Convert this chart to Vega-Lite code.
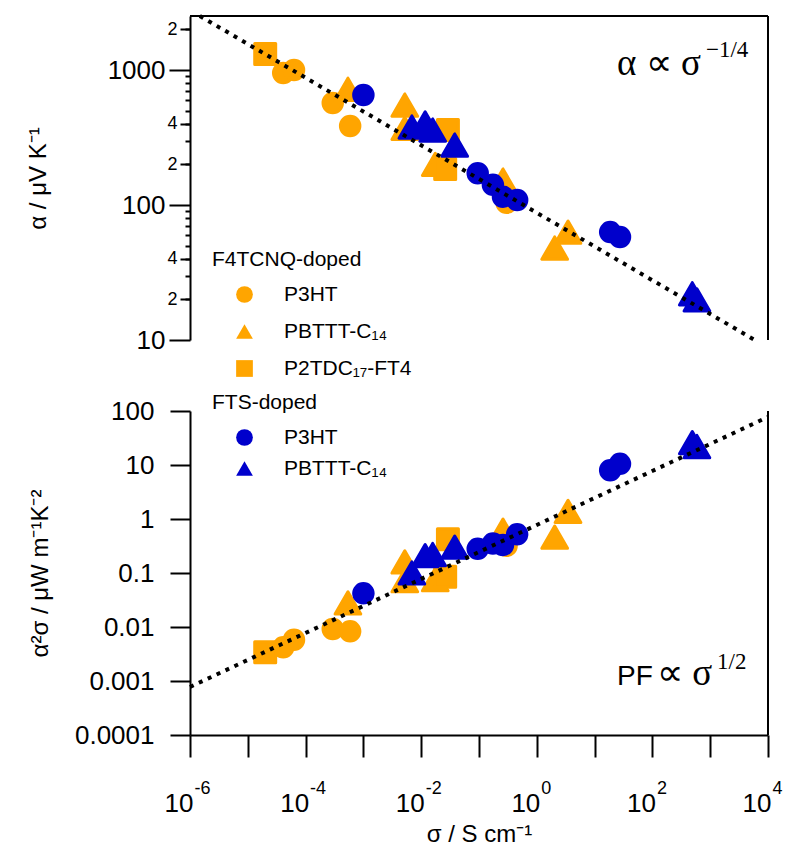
{
  "$schema": "https://vega.github.io/schema/vega-lite/v6.json",
  "width": 578,
  "height": 719,
  "autosize": {"type": "none"},
  "padding": {"left": 190, "top": 16, "right": 20, "bottom": 117},
  "background": "white",
  "config": {
    "view": {"stroke": null},
    "font": "Liberation Sans",
    "axis": {"grid": false, "domainColor": "black", "tickColor": "black", "labelColor": "black", "titleColor": "black", "domainWidth": 2, "tickWidth": 2, "labelFont": "Liberation Sans", "titleFont": "Liberation Sans", "titleFontWeight": "normal"},
    "legend": {"padding": 0}
  },
  "datasets": {
    "pts": [
      {"s": 4.1e-5, "a": 950, "pf": 0.0042, "dop": "F4TCNQ", "poly": "P3HT"},
      {"s": 6.3e-5, "a": 1000, "pf": 0.0058, "dop": "F4TCNQ", "poly": "P3HT"},
      {"s": 2.95e-4, "a": 570, "pf": 0.0092, "dop": "F4TCNQ", "poly": "P3HT"},
      {"s": 5.9e-4, "a": 385, "pf": 0.0083, "dop": "F4TCNQ", "poly": "P3HT"},
      {"s": 0.30, "a": 104, "pf": 0.32, "dop": "F4TCNQ", "poly": "P3HT"},
      {"s": 5.4e-4, "a": 720, "pf": 0.028, "dop": "F4TCNQ", "poly": "PBTTT-C₁₄"},
      {"s": 5.2e-3, "a": 550, "pf": 0.16, "dop": "F4TCNQ", "poly": "PBTTT-C₁₄"},
      {"s": 5.2e-3, "a": 370, "pf": 0.072, "dop": "F4TCNQ", "poly": "PBTTT-C₁₄"},
      {"s": 0.0175, "a": 200, "pf": 0.075, "dop": "F4TCNQ", "poly": "PBTTT-C₁₄"},
      {"s": 0.26, "a": 153, "pf": 0.62, "dop": "F4TCNQ", "poly": "PBTTT-C₁₄"},
      {"s": 3.47, "a": 63, "pf": 1.38, "dop": "F4TCNQ", "poly": "PBTTT-C₁₄"},
      {"s": 2.04, "a": 48, "pf": 0.46, "dop": "F4TCNQ", "poly": "PBTTT-C₁₄"},
      {"s": 2.0e-5, "a": 1315, "pf": 0.0034, "dop": "F4TCNQ", "poly": "P2TDC₁₇-FT4"},
      {"s": 0.029, "a": 360, "pf": 0.42, "dop": "F4TCNQ", "poly": "P2TDC₁₇-FT4"},
      {"s": 0.026, "a": 185, "pf": 0.085, "dop": "F4TCNQ", "poly": "P2TDC₁₇-FT4"},
      {"s": 1.0e-3, "a": 653, "pf": 0.042, "dop": "FTS", "poly": "P3HT"},
      {"s": 0.095, "a": 172, "pf": 0.28, "dop": "FTS", "poly": "P3HT"},
      {"s": 0.174, "a": 141, "pf": 0.35, "dop": "FTS", "poly": "P3HT"},
      {"s": 0.26, "a": 115, "pf": 0.33, "dop": "FTS", "poly": "P3HT"},
      {"s": 0.457, "a": 109, "pf": 0.52, "dop": "FTS", "poly": "P3HT"},
      {"s": 18.6, "a": 63, "pf": 8.0, "dop": "FTS", "poly": "P3HT"},
      {"s": 27.5, "a": 58, "pf": 10.5, "dop": "FTS", "poly": "P3HT"},
      {"s": 0.0069, "a": 378, "pf": 0.10, "dop": "FTS", "poly": "PBTTT-C₁₄"},
      {"s": 0.0117, "a": 405, "pf": 0.21, "dop": "FTS", "poly": "PBTTT-C₁₄"},
      {"s": 0.0158, "a": 359, "pf": 0.22, "dop": "FTS", "poly": "PBTTT-C₁₄"},
      {"s": 0.038, "a": 278, "pf": 0.30, "dop": "FTS", "poly": "PBTTT-C₁₄"},
      {"s": 490, "a": 22, "pf": 26, "dop": "FTS", "poly": "PBTTT-C₁₄"},
      {"s": 589, "a": 19.8, "pf": 22, "dop": "FTS", "poly": "PBTTT-C₁₄"}
    ],
    "fitA": [{"s": 1.479e-6, "a": 2512}, {"s": 5888, "a": 10}],
    "fitP": [{"s": 1e-6, "pf": 0.000776}, {"s": 10000, "pf": 77.6}],
    "one": [{}]
  },
  "layer": [
    {
      "data": {"name": "pts"},
      "transform": [{"filter": "datum.dop == 'F4TCNQ' && datum.poly == 'P3HT'"}],
      "mark": {"type": "point", "filled": true, "opacity": 1, "color": "#FFA500", "stroke": "#FFA500", "strokeWidth": 3, "strokeJoin": "round", "size": 380},
      "encoding": {
        "x": {"field": "s", "type": "quantitative", "scale": {"type": "log", "domain": [1e-6, 10000], "nice": false},
          "axis": {"orient": "bottom", "values": [1e-6, 0.0001, 0.01, 1, 100, 10000], "labelExpr": "['-6','-4','-2','0','2','4'][round((log(datum.value)/LN10+6)/2)]", "domain": false, "ticks": true, "tickSize": 22, "tickOpacity": 0, "labelFontSize": 18, "labelAlign": "left", "labelBaseline": "alphabetic", "labelOffset": 4, "labelPadding": 36, "labelOverlap": false, "labelBound": false, "labelFlush": false, "title": null}},
        "y": {"field": "a", "type": "quantitative", "scale": {"type": "log", "domain": [10, 2512], "nice": false, "range": [324, 0]},
          "axis": {"orient": "left", "values": [10, 20, 30, 40, 50, 60, 70, 80, 90, 100, 200, 300, 400, 500, 600, 700, 800, 900, 1000, 2000],
            "labelExpr": "datum.value == 10 ? '10' : datum.value == 100 ? '100' : datum.value == 1000 ? '1000' : ''",
            "tickSize": {"condition": {"test": "datum.value == 10 || datum.value == 100 || datum.value == 1000", "value": 21}, "value": 5},
            "labelFontSize": 26,
            "labelPadding": 4, "labelOverlap": false, "labelBound": false, "labelFlush": false,
            "title": "α / μV K⁻¹", "titleFontSize": 24, "titlePadding": 57}},
        "shape": {"field": "poly", "type": "nominal", "scale": {"domain": ["P3HT", "PBTTT-C₁₄", "P2TDC₁₇-FT4"], "range": ["circle", "triangle-up", "square"]},
          "legend": {"title": "F4TCNQ-doped", "orient": "none", "legendX": 22, "legendY": 233, "titleFontSize": 21, "titleFont": "Liberation Sans", "titleFontWeight": "normal", "titleColor": "black", "labelFontSize": 21, "labelFont": "Liberation Sans", "labelColor": "black", "symbolSize": 280, "symbolFillColor": "#FFA500", "symbolStrokeColor": "#FFA500", "symbolStrokeWidth": 2, "symbolOffset": 22, "labelOffset": 29, "rowPadding": 13, "titlePadding": 14}}
      }
    },
    {
      "data": {"name": "pts"},
      "transform": [{"filter": "datum.dop == 'F4TCNQ' && datum.poly == 'PBTTT-C₁₄'"}],
      "mark": {"type": "point", "shape": "triangle-up", "filled": true, "opacity": 1, "color": "#FFA500", "stroke": "#FFA500", "strokeWidth": 3, "strokeJoin": "round", "size": 660},
      "encoding": {
        "x": {"field": "s", "type": "quantitative", "scale": {"type": "log", "domain": [1e-6, 10000], "nice": false}, "axis": null},
        "y": {"field": "a", "type": "quantitative", "scale": {"type": "log", "domain": [10, 2512], "nice": false, "range": [324, 0]},
          "axis": {"orient": "left", "values": [20, 40, 200, 400, 2000], "labelExpr": "(datum.value == 40 || datum.value == 400) ? '4' : '2'", "domain": false, "tickSize": 10, "labelPadding": 3, "labelFontSize": 18, "labelOverlap": false, "labelBound": false, "labelFlush": false, "title": null}}
      }
    },
    {
      "data": {"name": "pts"},
      "transform": [{"filter": "datum.dop == 'F4TCNQ' && datum.poly == 'P2TDC₁₇-FT4'"}],
      "mark": {"type": "point", "shape": "square", "filled": true, "opacity": 1, "color": "#FFA500", "stroke": "#FFA500", "strokeWidth": 3, "strokeJoin": "round", "size": 440},
      "encoding": {
        "x": {"field": "s", "type": "quantitative", "scale": {"type": "log", "domain": [1e-6, 10000], "nice": false}, "axis": null},
        "y": {"field": "a", "type": "quantitative", "scale": {"type": "log", "domain": [10, 2512], "nice": false, "range": [324, 0]}, "axis": null}
      }
    },
    {
      "data": {"name": "pts"},
      "transform": [{"filter": "datum.dop == 'FTS' && datum.poly == 'P3HT'"}],
      "mark": {"type": "point", "shape": "circle", "filled": true, "opacity": 1, "color": "#0000CC", "stroke": "#0000CC", "strokeWidth": 3, "size": 380},
      "encoding": {
        "x": {"field": "s", "type": "quantitative", "scale": {"type": "log", "domain": [1e-6, 10000], "nice": false}, "axis": null},
        "y": {"field": "a", "type": "quantitative", "scale": {"type": "log", "domain": [10, 2512], "nice": false, "range": [324, 0]}, "axis": null}
      }
    },
    {
      "data": {"name": "pts"},
      "transform": [{"filter": "datum.dop == 'FTS' && datum.poly == 'PBTTT-C₁₄'"}],
      "mark": {"type": "point", "shape": "triangle-up", "filled": true, "opacity": 1, "color": "#0000CC", "stroke": "#0000CC", "strokeWidth": 3, "strokeJoin": "round", "size": 660},
      "encoding": {
        "x": {"field": "s", "type": "quantitative", "scale": {"type": "log", "domain": [1e-6, 10000], "nice": false}, "axis": null},
        "y": {"field": "a", "type": "quantitative", "scale": {"type": "log", "domain": [10, 2512], "nice": false, "range": [324, 0]}, "axis": null}
      }
    },
    {
      "data": {"name": "fitA"},
      "mark": {"type": "line", "color": "black", "strokeWidth": 4, "strokeDash": [4, 5.8], "strokeCap": "butt"},
      "encoding": {
        "x": {"field": "s", "type": "quantitative", "scale": {"type": "log", "domain": [1e-6, 10000], "nice": false}, "axis": null},
        "y": {"field": "a", "type": "quantitative", "scale": {"type": "log", "domain": [10, 2512], "nice": false, "range": [324, 0]}, "axis": null}
      }
    },
    {
      "data": {"name": "one"},
      "mark": {"type": "rule", "color": "black", "strokeWidth": 2},
      "encoding": {
        "y": {"datum": 2512, "type": "quantitative", "scale": {"type": "log", "domain": [10, 2512], "nice": false, "range": [324, 0]}, "axis": null}
      }
    },
    {
      "data": {"name": "one"},
      "mark": {"type": "rule", "color": "black", "strokeWidth": 2},
      "encoding": {
        "x": {"datum": 10000, "type": "quantitative", "scale": {"type": "log", "domain": [1e-6, 10000], "nice": false}, "axis": null},
        "y": {"datum": 10, "type": "quantitative", "scale": {"type": "log", "domain": [10, 2512], "nice": false, "range": [324, 0]}, "axis": null},
        "y2": {"datum": 2512}
      }
    },
    {
      "data": {"name": "one"},
      "mark": {"type": "text", "text": "α ∝ σ", "font": "Liberation Serif", "fontSize": 37, "align": "left", "baseline": "alphabetic", "color": "black"},
      "encoding": {
        "x": {"datum": 24.4, "type": "quantitative", "scale": {"type": "log", "domain": [1e-6, 10000], "nice": false}, "axis": null},
        "y": {"datum": 918, "type": "quantitative", "scale": {"type": "log", "domain": [10, 2512], "nice": false, "range": [324, 0]}, "axis": null}
      }
    },
    {
      "data": {"name": "one"},
      "mark": {"type": "text", "text": "−1/4", "font": "Liberation Serif", "fontSize": 23, "align": "left", "baseline": "alphabetic", "color": "black", "dx": 89, "dy": -18},
      "encoding": {
        "x": {"datum": 24.4, "type": "quantitative", "scale": {"type": "log", "domain": [1e-6, 10000], "nice": false}, "axis": null},
        "y": {"datum": 918, "type": "quantitative", "scale": {"type": "log", "domain": [10, 2512], "nice": false, "range": [324, 0]}, "axis": null}
      }
    },
    {
      "data": {"name": "pts"},
      "transform": [{"filter": "datum.dop == 'F4TCNQ' && datum.poly == 'P3HT'"}],
      "mark": {"type": "point", "shape": "circle", "filled": true, "opacity": 1, "color": "#FFA500", "stroke": "#FFA500", "strokeWidth": 3, "size": 380},
      "encoding": {
        "x": {"field": "s", "type": "quantitative", "scale": {"type": "log", "domain": [1e-6, 10000], "nice": false},
          "axis": {"orient": "bottom", "values": [1e-6, 1e-5, 0.0001, 0.001, 0.01, 0.1, 1, 10, 100, 1000, 10000], "labelExpr": "(round(log(datum.value)/LN10)+6) % 2 == 0 ? '10' : ''", "tickSize": 22, "labelFontSize": 26, "labelAlign": "right", "labelBaseline": "alphabetic", "labelOffset": 3, "labelPadding": 54, "labelOverlap": false, "labelBound": false, "labelFlush": false, "title": "σ / S cm⁻¹", "titleFontSize": 24, "titlePadding": 6}},
        "y": {"field": "pf", "type": "quantitative", "scale": {"type": "log", "domain": [0.0001, 100], "nice": false, "range": [719, 395]},
          "axis": {"orient": "left", "values": [0.0001, 0.001, 0.01, 0.1, 1, 10, 100], "format": "~g", "tickSize": 20, "labelPadding": 16, "labelFontSize": 26, "labelOverlap": false, "labelBound": false, "labelFlush": false, "title": "α²σ / μW m⁻¹K⁻²", "titleFontSize": 24, "titlePadding": 22}}
      }
    },
    {
      "data": {"name": "pts"},
      "transform": [{"filter": "datum.dop == 'F4TCNQ' && datum.poly == 'PBTTT-C₁₄'"}],
      "mark": {"type": "point", "shape": "triangle-up", "filled": true, "opacity": 1, "color": "#FFA500", "stroke": "#FFA500", "strokeWidth": 3, "strokeJoin": "round", "size": 660},
      "encoding": {
        "x": {"field": "s", "type": "quantitative", "scale": {"type": "log", "domain": [1e-6, 10000], "nice": false}, "axis": null},
        "y": {"field": "pf", "type": "quantitative", "scale": {"type": "log", "domain": [0.0001, 100], "nice": false, "range": [719, 395]}, "axis": null}
      }
    },
    {
      "data": {"name": "pts"},
      "transform": [{"filter": "datum.dop == 'F4TCNQ' && datum.poly == 'P2TDC₁₇-FT4'"}],
      "mark": {"type": "point", "shape": "square", "filled": true, "opacity": 1, "color": "#FFA500", "stroke": "#FFA500", "strokeWidth": 3, "strokeJoin": "round", "size": 440},
      "encoding": {
        "x": {"field": "s", "type": "quantitative", "scale": {"type": "log", "domain": [1e-6, 10000], "nice": false}, "axis": null},
        "y": {"field": "pf", "type": "quantitative", "scale": {"type": "log", "domain": [0.0001, 100], "nice": false, "range": [719, 395]}, "axis": null}
      }
    },
    {
      "data": {"name": "pts"},
      "transform": [{"filter": "datum.dop == 'FTS' && datum.poly == 'P3HT'"}],
      "mark": {"type": "point", "filled": true, "opacity": 1, "color": "#0000CC", "stroke": "#0000CC", "strokeWidth": 3, "strokeJoin": "round", "size": 380},
      "encoding": {
        "x": {"field": "s", "type": "quantitative", "scale": {"type": "log", "domain": [1e-6, 10000], "nice": false}, "axis": null},
        "y": {"field": "pf", "type": "quantitative", "scale": {"type": "log", "domain": [0.0001, 100], "nice": false, "range": [719, 395]}, "axis": null},
        "shape": {"field": "poly", "type": "nominal", "scale": {"domain": ["P3HT", "PBTTT-C₁₄"], "range": ["circle", "triangle-up"]},
          "legend": {"title": "FTS-doped", "orient": "none", "legendX": 22, "legendY": 376, "titleFontSize": 21, "titleFont": "Liberation Sans", "titleFontWeight": "normal", "titleColor": "black", "labelFontSize": 21, "labelFont": "Liberation Sans", "labelColor": "black", "symbolSize": 280, "symbolFillColor": "#0000CC", "symbolStrokeColor": "#0000CC", "symbolStrokeWidth": 2, "symbolOffset": 22, "labelOffset": 29, "rowPadding": 7, "titlePadding": 14}}
      }
    },
    {
      "data": {"name": "pts"},
      "transform": [{"filter": "datum.dop == 'FTS' && datum.poly == 'PBTTT-C₁₄'"}],
      "mark": {"type": "point", "shape": "triangle-up", "filled": true, "opacity": 1, "color": "#0000CC", "stroke": "#0000CC", "strokeWidth": 3, "strokeJoin": "round", "size": 660},
      "encoding": {
        "x": {"field": "s", "type": "quantitative", "scale": {"type": "log", "domain": [1e-6, 10000], "nice": false}, "axis": null},
        "y": {"field": "pf", "type": "quantitative", "scale": {"type": "log", "domain": [0.0001, 100], "nice": false, "range": [719, 395]}, "axis": null}
      }
    },
    {
      "data": {"name": "fitP"},
      "mark": {"type": "line", "color": "black", "strokeWidth": 4, "strokeDash": [4, 5.8], "strokeCap": "butt"},
      "encoding": {
        "x": {"field": "s", "type": "quantitative", "scale": {"type": "log", "domain": [1e-6, 10000], "nice": false}, "axis": null},
        "y": {"field": "pf", "type": "quantitative", "scale": {"type": "log", "domain": [0.0001, 100], "nice": false, "range": [719, 395]}, "axis": null}
      }
    },
    {
      "data": {"name": "one"},
      "mark": {"type": "rule", "color": "black", "strokeWidth": 2},
      "encoding": {
        "x": {"datum": 10000, "type": "quantitative", "scale": {"type": "log", "domain": [1e-6, 10000], "nice": false}, "axis": null},
        "y": {"datum": 0.0001, "type": "quantitative", "scale": {"type": "log", "domain": [0.0001, 100], "nice": false, "range": [719, 395]}, "axis": null},
        "y2": {"datum": 100}
      }
    },
    {
      "data": {"name": "one"},
      "mark": {"type": "text", "text": "PF", "font": "Liberation Sans", "fontSize": 28, "align": "left", "baseline": "alphabetic", "color": "black"},
      "encoding": {
        "x": {"datum": 24.4, "type": "quantitative", "scale": {"type": "log", "domain": [1e-6, 10000], "nice": false}, "axis": null},
        "y": {"datum": 0.000847, "type": "quantitative", "scale": {"type": "log", "domain": [0.0001, 100], "nice": false, "range": [719, 395]}, "axis": null}
      }
    },
    {
      "data": {"name": "one"},
      "mark": {"type": "text", "text": "∝ σ", "font": "Liberation Serif", "fontSize": 37, "align": "left", "baseline": "alphabetic", "color": "black", "dx": 40},
      "encoding": {
        "x": {"datum": 24.4, "type": "quantitative", "scale": {"type": "log", "domain": [1e-6, 10000], "nice": false}, "axis": null},
        "y": {"datum": 0.000847, "type": "quantitative", "scale": {"type": "log", "domain": [0.0001, 100], "nice": false, "range": [719, 395]}, "axis": null}
      }
    },
    {
      "data": {"name": "one"},
      "mark": {"type": "text", "text": "1/2", "font": "Liberation Serif", "fontSize": 23, "align": "left", "baseline": "alphabetic", "color": "black", "dx": 100, "dy": -16},
      "encoding": {
        "x": {"datum": 24.4, "type": "quantitative", "scale": {"type": "log", "domain": [1e-6, 10000], "nice": false}, "axis": null},
        "y": {"datum": 0.000847, "type": "quantitative", "scale": {"type": "log", "domain": [0.0001, 100], "nice": false, "range": [719, 395]}, "axis": null}
      }
    }
  ],
  "resolve": {
    "scale": {"y": "independent", "shape": "independent"},
    "axis": {"x": "independent", "y": "independent"},
    "legend": {"shape": "independent"}
  }
}
